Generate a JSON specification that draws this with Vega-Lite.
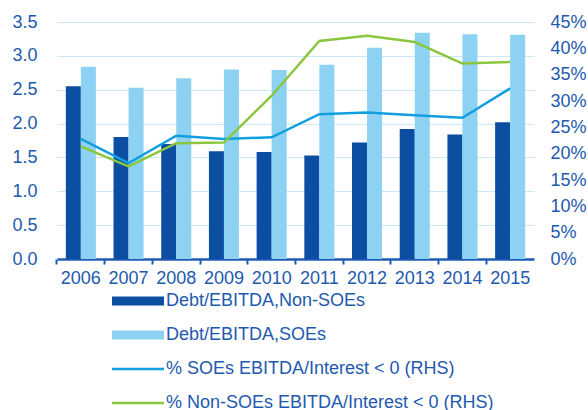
{
  "$schema": "https://vega.github.io/schema/vega-lite/v6.json",
  "width": 477,
  "height": 237,
  "autosize": {"type": "none"},
  "padding": {"left": 57, "top": 22, "right": 54, "bottom": 151},
  "config": {
    "view": {"stroke": null},
    "font": "Liberation Sans",
    "axis": {"labelFont": "Liberation Sans", "labelColor": "#2259B0", "labelFontSize": 18, "title": null},
    "legend": {"labelFont": "Liberation Sans", "labelColor": "#2259B0", "labelFontSize": 18, "padding": 0, "labelLimit": 400}
  },
  "datasets": {
    "bars": [
      {"year": "2006", "series": "Debt/EBITDA,Non-SOEs", "value": 2.55},
      {"year": "2006", "series": "Debt/EBITDA,SOEs", "value": 2.84},
      {"year": "2007", "series": "Debt/EBITDA,Non-SOEs", "value": 1.80},
      {"year": "2007", "series": "Debt/EBITDA,SOEs", "value": 2.53},
      {"year": "2008", "series": "Debt/EBITDA,Non-SOEs", "value": 1.70},
      {"year": "2008", "series": "Debt/EBITDA,SOEs", "value": 2.67},
      {"year": "2009", "series": "Debt/EBITDA,Non-SOEs", "value": 1.59},
      {"year": "2009", "series": "Debt/EBITDA,SOEs", "value": 2.80},
      {"year": "2010", "series": "Debt/EBITDA,Non-SOEs", "value": 1.58},
      {"year": "2010", "series": "Debt/EBITDA,SOEs", "value": 2.79},
      {"year": "2011", "series": "Debt/EBITDA,Non-SOEs", "value": 1.53},
      {"year": "2011", "series": "Debt/EBITDA,SOEs", "value": 2.87},
      {"year": "2012", "series": "Debt/EBITDA,Non-SOEs", "value": 1.72},
      {"year": "2012", "series": "Debt/EBITDA,SOEs", "value": 3.12},
      {"year": "2013", "series": "Debt/EBITDA,Non-SOEs", "value": 1.92},
      {"year": "2013", "series": "Debt/EBITDA,SOEs", "value": 3.34},
      {"year": "2014", "series": "Debt/EBITDA,Non-SOEs", "value": 1.84},
      {"year": "2014", "series": "Debt/EBITDA,SOEs", "value": 3.32},
      {"year": "2015", "series": "Debt/EBITDA,Non-SOEs", "value": 2.02},
      {"year": "2015", "series": "Debt/EBITDA,SOEs", "value": 3.31}
    ],
    "lines": [
      {"year": "2006", "series": "% SOEs EBITDA/Interest < 0 (RHS)", "pct": 0.228},
      {"year": "2007", "series": "% SOEs EBITDA/Interest < 0 (RHS)", "pct": 0.182},
      {"year": "2008", "series": "% SOEs EBITDA/Interest < 0 (RHS)", "pct": 0.234},
      {"year": "2009", "series": "% SOEs EBITDA/Interest < 0 (RHS)", "pct": 0.228},
      {"year": "2010", "series": "% SOEs EBITDA/Interest < 0 (RHS)", "pct": 0.231},
      {"year": "2011", "series": "% SOEs EBITDA/Interest < 0 (RHS)", "pct": 0.275},
      {"year": "2012", "series": "% SOEs EBITDA/Interest < 0 (RHS)", "pct": 0.278},
      {"year": "2013", "series": "% SOEs EBITDA/Interest < 0 (RHS)", "pct": 0.273},
      {"year": "2014", "series": "% SOEs EBITDA/Interest < 0 (RHS)", "pct": 0.268},
      {"year": "2015", "series": "% SOEs EBITDA/Interest < 0 (RHS)", "pct": 0.324},
      {"year": "2006", "series": "% Non-SOEs EBITDA/Interest < 0 (RHS)", "pct": 0.214},
      {"year": "2007", "series": "% Non-SOEs EBITDA/Interest < 0 (RHS)", "pct": 0.176},
      {"year": "2008", "series": "% Non-SOEs EBITDA/Interest < 0 (RHS)", "pct": 0.220},
      {"year": "2009", "series": "% Non-SOEs EBITDA/Interest < 0 (RHS)", "pct": 0.221},
      {"year": "2010", "series": "% Non-SOEs EBITDA/Interest < 0 (RHS)", "pct": 0.310},
      {"year": "2011", "series": "% Non-SOEs EBITDA/Interest < 0 (RHS)", "pct": 0.414},
      {"year": "2012", "series": "% Non-SOEs EBITDA/Interest < 0 (RHS)", "pct": 0.424},
      {"year": "2013", "series": "% Non-SOEs EBITDA/Interest < 0 (RHS)", "pct": 0.412},
      {"year": "2014", "series": "% Non-SOEs EBITDA/Interest < 0 (RHS)", "pct": 0.371},
      {"year": "2015", "series": "% Non-SOEs EBITDA/Interest < 0 (RHS)", "pct": 0.374}
    ]
  },
  "encoding": {
    "x": {
      "field": "year", "type": "nominal",
      "scale": {"paddingInner": 0.37, "paddingOuter": 0.185},
      "axis": {
        "labelAngle": 0, "domainColor": "#1F5BB5", "domainWidth": 2.5,
        "tickColor": "#1F5BB5", "tickWidth": 2, "tickSize": 5, "labelPadding": 5,
        "bandPosition": -0.294, "grid": false
      }
    }
  },
  "layer": [
    {
      "data": {"name": "bars"},
      "mark": {"type": "bar"},
      "encoding": {
        "xOffset": {"field": "series", "type": "nominal", "scale": {"paddingInner": 0, "domain": ["Debt/EBITDA,Non-SOEs", "Debt/EBITDA,SOEs"]}},
        "y": {
          "field": "value", "type": "quantitative",
          "scale": {"domain": [0, 3.5], "nice": false},
          "axis": {
            "values": [0, 0.5, 1, 1.5, 2, 2.5, 3, 3.5], "format": ".1f",
            "domain": false, "ticks": false, "tickSize": 0, "labelPadding": 20,
            "grid": true, "gridColor": "#C9E8F8", "gridWidth": 1.2
          }
        },
        "fill": {
          "field": "series", "type": "nominal",
          "scale": {"domain": ["Debt/EBITDA,Non-SOEs", "Debt/EBITDA,SOEs"], "range": ["#0B4EA2", "#8DD2F3"]},
          "legend": {
            "title": null, "orient": "none", "legendX": 72, "legendY": 270,
            "direction": "vertical",
            "symbolType": "M-5.2,-0.9H5.2V0.9H-5.2Z", "symbolSize": 100,
            "symbolStrokeWidth": 0, "labelOffset": 19, "rowPadding": 16, "labelLimit": 400
          }
        }
      }
    },
    {
      "data": {"name": "lines"},
      "mark": {"type": "line", "strokeWidth": 2.5},
      "encoding": {
        "y": {
          "field": "pct", "type": "quantitative",
          "scale": {"domain": [0, 0.45], "nice": false},
          "axis": {
            "orient": "right",
            "values": [0, 0.05, 0.1, 0.15, 0.2, 0.25, 0.3, 0.35, 0.4, 0.45], "format": ".0%",
            "domain": false, "ticks": false, "tickSize": 0, "labelPadding": 16, "grid": false
          }
        },
        "stroke": {
          "field": "series", "type": "nominal",
          "scale": {"domain": ["% SOEs EBITDA/Interest < 0 (RHS)", "% Non-SOEs EBITDA/Interest < 0 (RHS)"], "range": ["#119FE0", "#8CC63F"]},
          "legend": {
            "title": null, "orient": "none", "legendX": 72, "legendY": 338,
            "direction": "vertical",
            "symbolType": "M-5.2,0H5.2", "symbolSize": 100,
            "symbolStrokeWidth": 2.5, "labelOffset": 19, "rowPadding": 16, "labelLimit": 400
          }
        }
      }
    }
  ],
  "resolve": {"scale": {"y": "independent"}}
}
